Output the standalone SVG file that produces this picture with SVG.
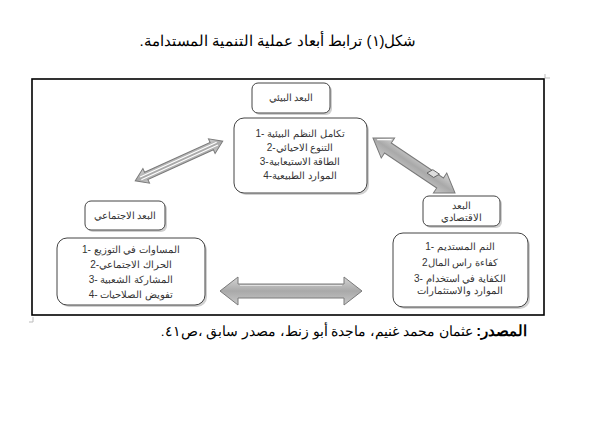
<svg xmlns="http://www.w3.org/2000/svg" width="590" height="430" viewBox="0 0 590 430">
<defs>
<style>
.frame{fill:none;stroke:#000;stroke-width:1.6}
.box{fill:#fff;stroke:#444;stroke-width:1}
.shadow{fill:#d0d0d0}
.t{font-family:"Liberation Sans",Arial,sans-serif;font-size:10px;fill:#333;text-anchor:middle}
.ar{fill:url(#g1);stroke:#7a7a7a;stroke-width:1}
.hl{stroke:#fff;stroke-width:1.2;fill:none}
</style>
<linearGradient id="g1" x1="0" y1="0" x2="0" y2="1">
<stop offset="0" stop-color="#d4d4d4"/>
<stop offset="0.5" stop-color="#a9a9a9"/>
<stop offset="1" stop-color="#c8c8c8"/>
</linearGradient>
</defs>
<rect width="590" height="430" fill="#fff"/>

<text x="278" y="46" direction="rtl" style="font-family:'Liberation Sans',Arial,sans-serif;font-size:15px;fill:#000;text-anchor:middle">شكل(١) ترابط أبعاد عملية التنمية المستدامة.</text>

<rect class="frame" x="32" y="79" width="512" height="236"/>
<path d="M545 74v4h5M33 317v5h-4" stroke="#bbb" fill="none" stroke-width="1"/>

<g id="connectors">
<g transform="translate(179,161) rotate(-24.4)">
<polygon class="ar" points="-48,0 -36,-8 -36,-4 36,-4 36,-8 48,0 36,8 36,4 -36,4 -36,8"/>
<path class="hl" d="M-42,-1.5H42M-42,1.5H42"/>
</g>
<g transform="translate(414,165.5) rotate(33.85)">
<polygon class="ar" points="-49.4,0 -31.4,-12 -31.4,-6 31.4,-6 31.4,-12 49.4,0 31.4,12 31.4,6 -31.4,6 -31.4,12"/>
<path d="M-45,-1L-33,-9" stroke="#fff" stroke-width="1.2" fill="none"/>
<polygon points="18,-7 26,-7 23,-1 15,-1" fill="#ddd" stroke="#555" stroke-width="0.8"/>
</g>
<polygon class="ar" points="220,291 238,277 238,284 344,284 344,277 362,291 344,305 344,298 238,298 238,305"/>
<path d="M240,285.5H342" stroke="#e0e0e0" stroke-width="1" fill="none"/>
</g>

<g id="env-title">
<rect class="shadow" x="254" y="85" width="78" height="30" rx="6"/>
<rect class="box" x="252" y="83" width="78" height="30" rx="6"/>
<text class="t" x="291" y="101">البعد البيئي</text>
</g>
<g id="env-list">
<rect class="shadow" x="236" y="120" width="133" height="75" rx="10"/>
<rect class="box" x="234" y="118" width="133" height="75" rx="10"/>
<text class="t" x="300" y="137">1- تكامل النظم البيئية</text>
<text class="t" x="300" y="151">2-التنوع الاحيائي</text>
<text class="t" x="300" y="165">3-الطاقة الاستيعابية</text>
<text class="t" x="300" y="179">4-الموارد الطبيعية</text>
</g>

<g id="soc-title">
<rect class="shadow" x="87" y="203" width="80" height="29" rx="6"/>
<rect class="box" x="85" y="201" width="80" height="29" rx="6"/>
<text class="t" x="125" y="219">البعد الاجتماعي</text>
</g>
<g id="soc-list">
<rect class="shadow" x="59" y="240" width="148" height="67" rx="10"/>
<rect class="box" x="57" y="238" width="148" height="67" rx="10"/>
<text class="t" x="131" y="253">1- المساوات في التوزيع</text>
<text class="t" x="131" y="268">2-الحراك الاجتماعي</text>
<text class="t" x="131" y="283">3- المشاركة الشعبية</text>
<text class="t" x="131" y="298">4- تفويض الصلاحيات</text>
</g>

<g id="eco-title">
<rect class="shadow" x="425" y="198" width="77" height="30" rx="6"/>
<rect class="box" x="423" y="196" width="77" height="30" rx="6"/>
<text class="t" x="461" y="209">البعد</text>
<text class="t" x="461" y="221">الاقتصادي</text>
</g>
<g id="eco-list">
<rect class="shadow" x="395" y="235" width="135" height="74" rx="10"/>
<rect class="box" x="393" y="233" width="135" height="74" rx="10"/>
<text class="t" x="460" y="250">1- النم المستديم</text>
<text class="t" x="460" y="266">2كفاءة راس المال</text>
<text class="t" x="460" y="282">3- الكفاية في استخدام</text>
<text class="t" x="460" y="294">الموارد والاستثمارات</text>
</g>

<text x="344" y="336" direction="rtl" style="font-family:'Liberation Sans',Arial,sans-serif;font-size:13.5px;fill:#000;text-anchor:middle"><tspan style="font-weight:bold;font-size:14.5px">المصدر:</tspan> عثمان محمد غنيم، ماجدة أبو زنط، مصدر سابق  ،ص٤١.</text>
</svg>
